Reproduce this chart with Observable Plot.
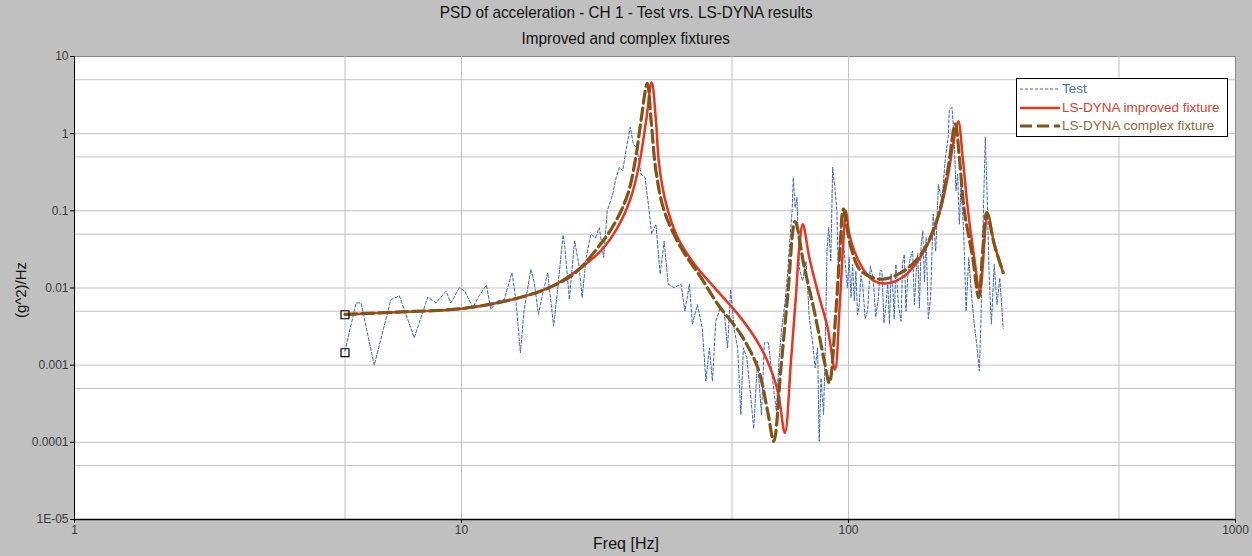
<!DOCTYPE html>
<html><head><meta charset="utf-8">
<script src="https://cdn.jsdelivr.net/npm/d3@7"></script>
<script src="https://cdn.jsdelivr.net/npm/@observablehq/plot@0.6"></script>
<style>
body{margin:0;background:#c0c0c0;font-family:"Liberation Sans",Arial,sans-serif;}
#wrap{position:relative;width:1252px;height:556px;overflow:hidden;background:#c0c0c0;}
#title{position:absolute;left:0;top:0;width:1252px;text-align:center;color:#111;font-size:17px;}
#title div{position:absolute;left:0;width:1252px;text-align:center;}
#title span{display:inline-block;transform:scaleX(0.9);transform-origin:center;}
#chart{position:absolute;left:0;top:50px;}
#xlabel{position:absolute;left:0;width:1252px;top:535px;text-align:center;font-size:16px;color:#111;}
#ylabel{position:absolute;left:20px;top:290px;font-size:15px;color:#111;transform:translate(-50%,-50%) rotate(-90deg);white-space:nowrap;}
#legend{position:absolute;left:1016px;top:78px;width:210px;height:57px;border:1px solid #000;background:#fff;font-size:13.5px;}
.row{position:absolute;left:2px;height:18px;line-height:18px;white-space:nowrap;}
.row svg{position:absolute;left:0;top:4px;}
.row span{position:absolute;left:43px;top:0;}
</style></head><body>
<div id="wrap">
  <div id="title">
    <div style="top:3px"><span>PSD of acceleration - CH 1 - Test vrs. LS-DYNA results</span></div>
    <div style="top:29px"><span>Improved and complex fixtures</span></div>
  </div>
  <div id="chart"></div>
  <div id="xlabel">Freq [Hz]</div>
  <div id="ylabel">(g^2)/Hz</div>
  <div id="legend"></div>
</div>
<script>
// ---- data ----
const freqTest = [5.0,5.34,5.5,5.95,6.57,6.91,7.55,8.18,8.59,9.12,9.39,9.87,10.2,10.7,11.1,11.6,11.9,12.4,12.9,13.5,13.8,14.2,14.5,15.1,15.4,15.8,16.2,16.7,17.3,17.7,18.3,18.5,19.0,19.6,20.1,20.5,21.0,21.6,22.2,22.7,23.3,23.8,24.6,25.1,25.6,26.1,26.6,27.3,27.8,28.4,29.1,29.8,30.4,31.0,31.8,32.6,33.4,34.2,35.4,36.9,37.8,38.8,39.5,40.7,41.9,42.8,43.7,44.5,45.4,46.6,47.7,48.7,49.6,50.6,51.7,52.7,53.5,54.6,55.8,56.9,58.2,59.6,60.6,62.1,63.4,65.1,66.1,67.2,68.6,69.7,70.4,71.5,72.0,72.8,73.6,74.6,76.1,77.7,79.2,80.7,82.0,83.2,84.0,84.9,86.2,87.1,88.0,88.9,90.0,91.0,92.2,93.3,94.1,95.6,97.3,99.3,100.4,101.5,102.5,103.5,104.5,105.5,106.6,107.7,108.8,110.4,112,113.9,115.8,117.6,119.5,120.7,122,123.5,125,126.3,127.6,128.8,130,131.3,132.6,134.6,136.7,138,139.4,140.8,142.2,144.3,146.5,148,149.6,151,152.5,154,155.6,157.1,158.7,160.8,163,165.5,168,170.7,174.3,178,181,182.2,185.1,187.7,189.5,191.4,193.4,195.3,198.4,201.3,204.5,208.2,211.3,214.5,217.8,219.8,222.7,225.7,228,231,234,238,242,246,251];
const psdTest = [0.00152,0.0064,0.0064,0.001,0.0071,0.0079,0.00226,0.0076,0.0064,0.0091,0.0064,0.0101,0.0091,0.00555,0.0079,0.0109,0.0053,0.0068,0.0071,0.0158,0.0075,0.00144,0.005,0.0175,0.0123,0.00455,0.0083,0.0158,0.0032,0.0091,0.0488,0.0334,0.0071,0.0407,0.0203,0.0075,0.0248,0.05,0.045,0.0607,0.0248,0.1,0.165,0.27,0.366,0.33,0.6,1.21,0.73,0.66,0.3,0.27,0.122,0.05,0.067,0.0151,0.0407,0.0112,0.0101,0.0112,0.005,0.0112,0.0034,0.0061,0.003,0.00062,0.00168,0.00062,0.0037,0.0055,0.005,0.00168,0.0096,0.003,0.00168,0.000228,0.00168,0.00125,0.00042,0.00015,0.00113,0.000228,0.00195,0.00195,0.00076,0.000253,0.00113,0.003,0.0068,0.0166,0.037,0.1,0.27,0.11,0.149,0.0184,0.0123,0.0224,0.0041,0.00205,0.00092,0.00168,0.000103,0.00068,0.000228,0.00168,0.0303,0.0607,0.0224,0.366,0.2,0.1,0.0184,0.067,0.0334,0.0101,0.0248,0.0075,0.0203,0.0068,0.0166,0.0045,0.0061,0.0145,0.0112,0.004,0.005,0.019,0.0135,0.0042,0.0075,0.017,0.0166,0.0035,0.0061,0.012,0.0034,0.0155,0.0112,0.004,0.0203,0.006,0.0037,0.021,0.0274,0.005,0.0135,0.024,0.0303,0.006,0.0166,0.028,0.0055,0.035,0.055,0.012,0.045,0.004,0.0075,0.0906,0.03,0.22,0.135,0.49,0.895,1.99,2.2,0.81,0.182,0.30,0.067,0.22,0.055,0.005,0.0248,0.0075,0.0034,0.00185,0.00084,0.0034,0.067,0.895,0.182,0.0135,0.0034,0.0203,0.0061,0.0135,0.003];

const freqImproved = [5,7,10,13.2,16.7,18.1,20.4,22.9,25.3,27.4,28.8,30.0,31.0,31.8,32.4,33.8,36.2,40.0,45.9,52.7,59.4,63.7,65.9,68.5,71.0,73.2,74.6,76.2,79.2,83.2,88.3,92.3,94.7,97.0,98.5,100.5,103.5,109.9,116.6,126.3,139.4,151,163.4,173.4,180.4,187.7,192.2,197.3,203.2,211.3,218.5,229,238,251];
const psdImproved = [0.00455,0.0049,0.0054,0.0069,0.0099,0.0123,0.0184,0.0303,0.0607,0.149,0.404,1.48,4.64,1.48,0.404,0.122,0.045,0.0203,0.0091,0.0041,0.00168,0.00076,0.00042,0.000132,0.00113,0.0083,0.0334,0.0671,0.0248,0.0091,0.00305,0.00088,0.005,0.04,0.1,0.05,0.0303,0.0166,0.0123,0.0115,0.0143,0.0224,0.045,0.11,0.27,0.895,1.45,0.49,0.11,0.0248,0.0091,0.0906,0.037,0.0158];

const freqComplex = [5,7,10,13.2,16.7,19.6,22.5,24.8,26.9,28.2,29.1,30.2,30.9,31.8,33.4,36.9,41.6,45.9,52.7,58.3,61.8,64.1,66.9,69.7,72.8,76.9,81.6,86.6,89.2,92.8,95.2,97.0,101.5,107.7,121.3,136.7,154,170,180.4,188.8,193.4,199.2,209.4,217,222.2,227.6,238,251];
const psdComplex = [0.00455,0.0049,0.0054,0.0069,0.0099,0.0155,0.0334,0.067,0.165,0.49,1.48,4.5,1.48,0.33,0.1,0.0334,0.0136,0.0062,0.0025,0.00092,0.000253,0.000103,0.00092,0.0083,0.0726,0.0184,0.005,0.00113,0.000589,0.005,0.037,0.105,0.0334,0.0166,0.013,0.0158,0.0274,0.0817,0.33,1.34,0.49,0.1,0.0248,0.0075,0.0303,0.095,0.037,0.0158];

const markerFreq = [5, 5];
const markerPsd = [0.0045, 0.00145];

const xTicks = [1, 10, 100, 1000];
const xTickLabels = ["1", "10", "100", "1000"];
const yTicks = [10, 1, 0.1, 0.01, 0.001, 0.0001, 0.00001];
const yTickLabels = ["10", "1", "0.1", "0.01", "0.001", "0.0001", "1E-05"];
const xGrid = [5, 10, 50, 100, 500];
const yGrid = [5, 1, 0.5, 0.1, 0.05, 0.01, 0.005, 0.001, 0.0005, 0.0001, 0.00005];

const seriesNames = ["Test", "LS-DYNA improved fixture", "LS-DYNA complex fixture"];
const seriesColors = ["#3a66c4", "#e8351f", "#7e5618"];
const legendTextColors = ["#4a6fb8", "#d9402f", "#8b6b3d"];

// ---- build tables ----
const test = freqTest.map((f, i) => ({f, v: psdTest[i]}));
const improved = freqImproved.map((f, i) => ({f, v: psdImproved[i]}));
const complex = freqComplex.map((f, i) => ({f, v: psdComplex[i]}));
const markers = markerFreq.map((f, i) => ({f, v: markerPsd[i]}));

const xfmt = d => xTickLabels[xTicks.indexOf(d)];
const yfmt = d => yTickLabels[yTicks.findIndex(t => Math.abs(t - d) / t < 1e-6)];

const chart = Plot.plot({
  width: 1252, height: 506,
  marginTop: 6, marginBottom: 37, marginLeft: 74, marginRight: 17,
  style: {background: "transparent", fontFamily: "Liberation Sans, Arial, sans-serif", fontSize: "12px", color: "#3a3a3a"},
  x: {type: "log", domain: [1, 1000]},
  y: {type: "log", domain: [1e-5, 10]},
  marks: [
    Plot.frame({fill: "white", stroke: "#8a8a8a"}),
    Plot.ruleX(xGrid, {stroke: "#c2c2c2", strokeWidth: 1}),
    Plot.ruleY(yGrid, {stroke: "#c2c2c2", strokeWidth: 1}),
    Plot.axisX({ticks: xTicks, tickFormat: xfmt, tickSize: 4, tickPadding: 2, label: null, stroke: "#000"}),
    Plot.axisY({ticks: yTicks, tickFormat: yfmt, tickSize: 4, tickPadding: 2, label: null, stroke: "#000"}),
    Plot.ruleX([1], {stroke: "#000", strokeWidth: 1}),
    Plot.ruleY([1e-5], {stroke: "#000", strokeWidth: 1.5}),
    Plot.line(test, {x: "f", y: "v", stroke: seriesColors[0], strokeWidth: 1, strokeDasharray: "3,2"}),
    Plot.line(improved, {x: "f", y: "v", stroke: seriesColors[1], strokeWidth: 2.5, curve: "catmull-rom"}),
    Plot.line(complex, {x: "f", y: "v", stroke: seriesColors[2], strokeWidth: 3.2, strokeDasharray: "12,5", curve: "catmull-rom"}),
    Plot.dot(markers, {x: "f", y: "v", symbol: "square", r: 4.5, stroke: "#000", strokeWidth: 1.2, fill: "none"})
  ]
});
document.getElementById("chart").appendChild(chart);

// ---- legend ----
const dashes = ["3,2", null, "12,5"];
const widths = [1, 2.5, 3.2];
const leg = document.getElementById("legend");
seriesNames.forEach((name, i) => {
  const row = document.createElement("div");
  row.className = "row";
  row.style.top = (1 + i * 18.5) + "px";
  row.innerHTML = `<svg width="42" height="10"><line x1="1" x2="41" y1="5" y2="5" stroke="${seriesColors[i]}" stroke-width="${widths[i]}" ${dashes[i] ? `stroke-dasharray="${dashes[i]}"` : ""}/></svg><span style="color:${legendTextColors[i]}">${name}</span>`;
  leg.appendChild(row);
});
</script>
</body></html>
